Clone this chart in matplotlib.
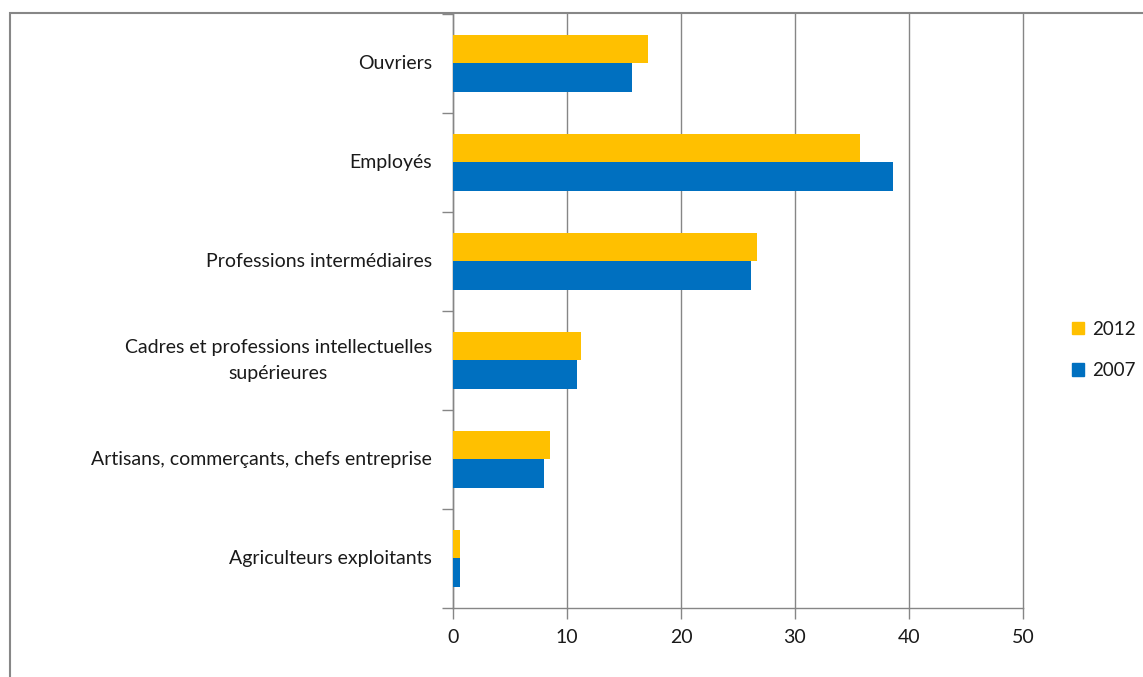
import matplotlib
matplotlib.use("Agg")
import matplotlib.pyplot as plt
from matplotlib.patches import Rectangle, Patch
import numpy as np

categories = ["Agriculteurs exploitants",
              "Artisans, commerçants, chefs entreprise",
              "Cadres et professions intellectuelles\nsupérieures",
              "Professions intermédiaires",
              "Employés",
              "Ouvriers"]
values_2012 = [0.6, 8.55, 11.2, 26.7, 35.7, 17.1]
values_2007 = [0.6, 7.95, 10.9, 26.1, 38.6, 15.7]
series_labels = ["2012", "2007"]
xticks = [0, 10, 20, 30, 40, 50]

col_2012 = "#FFC000"
col_2007 = "#0070C0"
txt_col = "#1a1a1a"

plt.rcParams['font.family'] = ['Lato', 'DejaVu Sans']

fig = plt.figure(figsize=(11.43, 6.77), dpi=100)
# outer frame
fig.patches.append(Rectangle((10/1143, -0.1), 1.0, 1.1 - 13/677, transform=fig.transFigure,
                             fill=False, edgecolor="#878787", linewidth=1.5))

ax = fig.add_axes([453/1143, 1 - 607.7/677, 570/1143, (607.7 - 14)/677])

y = np.arange(len(categories))
h = 0.286
ax.barh(y + h/2, values_2012, height=h, color=col_2012, label=series_labels[0], zorder=3)
ax.barh(y - h/2, values_2007, height=h, color=col_2007, label=series_labels[1], zorder=3)

ax.set_xlim(0, 50)
ax.set_ylim(-0.5, len(categories) - 0.5)
ax.set_xticks(xticks)
ax.set_xticklabels([str(t) for t in xticks])
ax.xaxis.grid(True, color="#868686", linewidth=1)
for gl in ax.get_xgridlines():
    gl.set_clip_on(False)
ax.set_axisbelow(True)

# y ticks at category boundaries, labels at centres drawn as text
ax.set_yticks(np.arange(-0.5, len(categories), 1.0))
ax.set_yticklabels([])
ax.tick_params(axis="y", which="major", length=8, color="#868686", width=1)
ax.tick_params(axis="x", length=8, color="#868686", width=1, pad=7,
               labelsize=14, labelcolor=txt_col)

trans = ax.get_yaxis_transform()
for yi, cat in zip(y, categories):
    ax.text(-21/570, yi, cat, transform=trans, ha="right", va="center",
            multialignment="center", fontsize=14, color=txt_col,
            linespacing=1.6)

for s in ["top", "right"]:
    ax.spines[s].set_visible(False)
for s in ["left", "bottom"]:
    ax.spines[s].set_color("#868686")
    ax.spines[s].set_linewidth(1)

# legend
handles = [Patch(color=col_2012), Patch(color=col_2007)]
fig.legend(handles, series_labels, loc="center left",
           bbox_to_anchor=(1072/1143, 1 - 350/677), frameon=False,
           fontsize=13.5, handlelength=0.65, handleheight=0.65, handletextpad=0.4,
           labelspacing=1.3, labelcolor=txt_col, borderpad=0, borderaxespad=0)

fig.savefig("out.png", dpi=100)
